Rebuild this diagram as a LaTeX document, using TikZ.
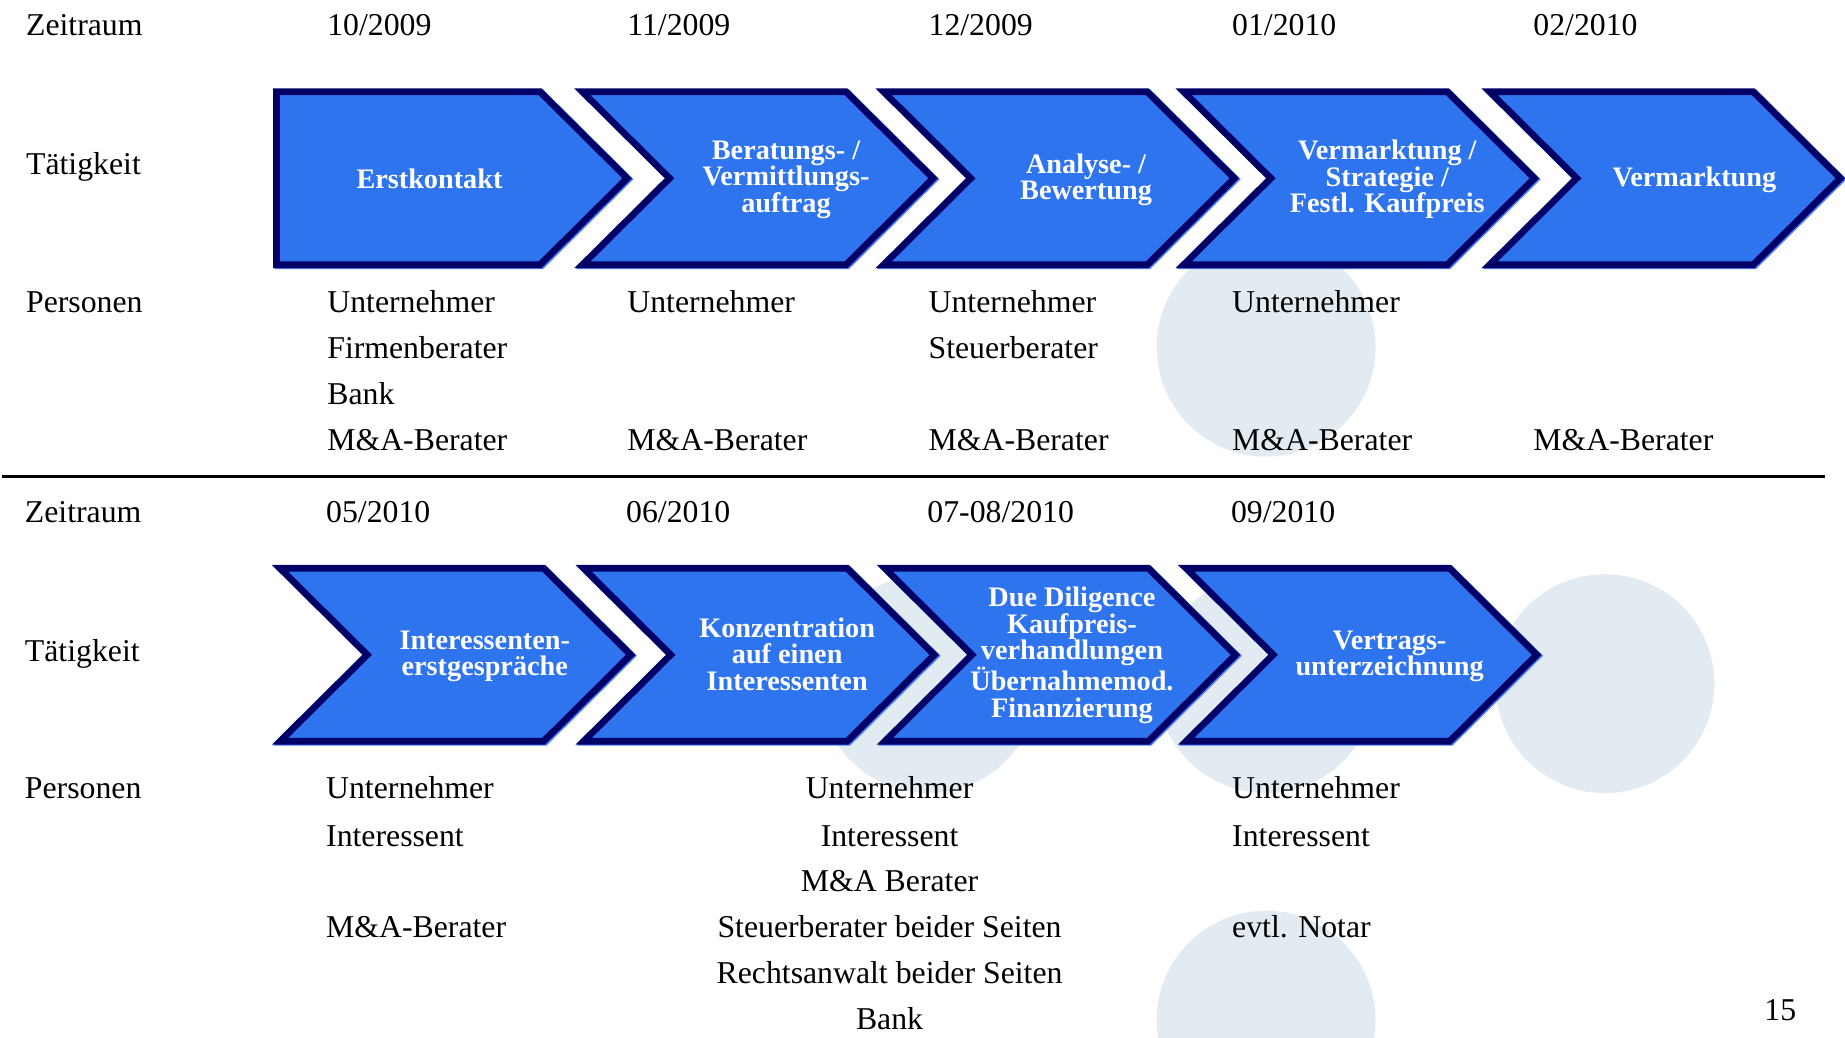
\documentclass[tikz,border=0pt]{standalone}
\usepackage{fontspec}
\setmainfont{Liberation Serif}
\definecolor{chevfill}{HTML}{2E74EE}
\definecolor{chevline}{HTML}{000066}
\definecolor{chevedge}{HTML}{4A7BF7}
\definecolor{circfill}{HTML}{E2EAF2}
\tikzset{
  chevshape/.style={fill=chevfill, draw=chevline, line width=5.7pt, line join=miter, miter limit=10},
  chevglow/.style={draw=chevedge, line width=5.7pt, line join=miter, miter limit=10},
  chevp/.pic={
    \path[chevglow, shift={(1.3,0.8)}] (3,-73.5) -- (227,-73.5) -- (301,0) -- (227,73.5) -- (3,73.5) -- cycle;
    \path[chevshape] (3,-73.5) -- (227,-73.5) -- (301,0) -- (227,73.5) -- (3,73.5) -- cycle;
  },
  chevn/.pic={
    \path[chevglow, shift={(1.3,0.8)}] (3,-73.5) -- (227,-73.5) -- (301,0) -- (227,73.5) -- (3,73.5) -- (77,0) -- cycle;
    \path[chevshape] (3,-73.5) -- (227,-73.5) -- (301,0) -- (227,73.5) -- (3,73.5) -- (77,0) -- cycle;
  },
  bgcirc/.style={fill=circfill, draw=none},
  lbl/.style={anchor=base west, inner sep=0pt, font=\fontsize{27}{30}\selectfont},
  lblc/.style={anchor=base, inner sep=0pt, font=\fontsize{27}{30}\selectfont},
  chevtext/.style={text=white, align=center, inner sep=0pt, font=\fontsize{24}{22.5}\selectfont\bfseries},
}
\begin{document}
\begin{tikzpicture}[x=1pt, y=-1pt]
\useasboundingbox (0,0) rectangle (1568,882);
\fill[white] (0,0) rectangle (1568,882);

% background circles
\fill[bgcirc] (1076,295) circle[radius=93];
\fill[bgcirc] (789,581) circle[radius=93];
\fill[bgcirc] (1076,581) circle[radius=93];
\fill[bgcirc] (1364,581) circle[radius=93];
\fill[bgcirc] (1076,867) circle[radius=93];

% top row chevrons
\pic at (232,151.5) {chevp};
\pic at (492,151.5) {chevn};
\pic at (748,151.5) {chevn};
\pic at (1003,151.5) {chevn};
\pic at (1263,151.5) {chevn};

% bottom row chevrons
\pic at (235,556.5) {chevn};
\pic at (493,556.5) {chevn};
\pic at (749,556.5) {chevn};
\pic at (1005,556.5) {chevn};

% chevron texts
\node[chevtext] (t1) at (365,152) {Erstkontakt};
\node[chevtext] (t2) at (668,152.5) {Beratungs- /\\Vermittlungs-\\auftrag};
\node[chevtext] (t3) at (923,153) {Analyse- /\\Bewertung};
\node[chevtext] (t4) at (1179,152.5) {Vermarktung /\\Strategie /\\Festl. Kaufpreis};
\node[chevtext] (t5) at (1440,153) {Vermarktung};
\node[chevtext] (b1) at (412,558) {Interessenten-\\erstgespräche};
\node[chevtext] (b2) at (669,556) {Konzentration\\auf einen\\Interessenten};
\node[chevtext] (b3) at (911,557) {Due Diligence\\Kaufpreis-\\verhandlungen\\Übernahmemod.\\Finanzierung};
\node[chevtext] (b4) at (1181,558) {Vertrags-\\unterzeichnung};

% row 1 labels
\node[lbl] (z1) at (22,30) {Zeitraum};
\node[lbl] (a1) at (22,148) {Tätigkeit};
\node[lbl] (p1) at (22,266) {Personen};
\node[lbl] (d11) at (278,30) {10/2009};
\node[lbl] (d12) at (533,30) {11/2009};
\node[lbl] (d13) at (789,30) {12/2009};
\node[lbl] (d14) at (1047,30) {01/2010};
\node[lbl] (d15) at (1303,30) {02/2010};

\node[lbl] (r1c1a) at (278,266) {Unternehmer};
\node[lbl] (r1c1b) at (278,305) {Firmenberater};
\node[lbl] (r1c1c) at (278,344) {Bank};
\node[lbl] (r1c1d) at (278,383) {M\&A-Berater};
\node[lbl] (r1c2a) at (533,266) {Unternehmer};
\node[lbl] (r1c2d) at (533,383) {M\&A-Berater};
\node[lbl] (r1c3a) at (789,266) {Unternehmer};
\node[lbl] (r1c3b) at (789,305) {Steuerberater};
\node[lbl] (r1c3d) at (789,383) {M\&A-Berater};
\node[lbl] (r1c4a) at (1047,266) {Unternehmer};
\node[lbl] (r1c4d) at (1047,383) {M\&A-Berater};
\node[lbl] (r1c5d) at (1303,383) {M\&A-Berater};

% separator
\coordinate (ruleL) at (2,405);
\coordinate (ruleR) at (1551,405);
\draw[line width=2.3pt] (ruleL) -- (ruleR);

% row 2 labels
\node[lbl] (z2) at (21,444) {Zeitraum};
\node[lbl] (a2) at (21,562) {Tätigkeit};
\node[lbl] (p2) at (21,679) {Personen};
\node[lbl] (d21) at (277,444) {05/2010};
\node[lbl] (d22) at (532,444) {06/2010};
\node[lbl] (d23) at (788,444) {07-08/2010};
\node[lbl] (d24) at (1046,444) {09/2010};

\node[lbl] (r2c1a) at (277,679) {Unternehmer};
\node[lbl] (r2c1b) at (277,719) {Interessent};
\node[lbl] (r2c1d) at (277,797) {M\&A-Berater};

\node[lblc] (r2m1) at (756,679) {Unternehmer};
\node[lblc] (r2m2) at (756,719) {Interessent};
\node[lblc] (r2m3) at (756,758) {M\&A Berater};
\node[lblc] (r2m4) at (756,797) {Steuerberater beider Seiten};
\node[lblc] (r2m5) at (756,836) {Rechtsanwalt beider Seiten};
\node[lblc] (r2m6) at (756,875) {Bank};

\node[lbl] (r2c4a) at (1047,679) {Unternehmer};
\node[lbl] (r2c4b) at (1047,719) {Interessent};
\node[lbl] (r2c4d) at (1047,797) {evtl. Notar};

\node[lblc] (pg) at (1513,867) {15};
\end{tikzpicture}
\end{document}
